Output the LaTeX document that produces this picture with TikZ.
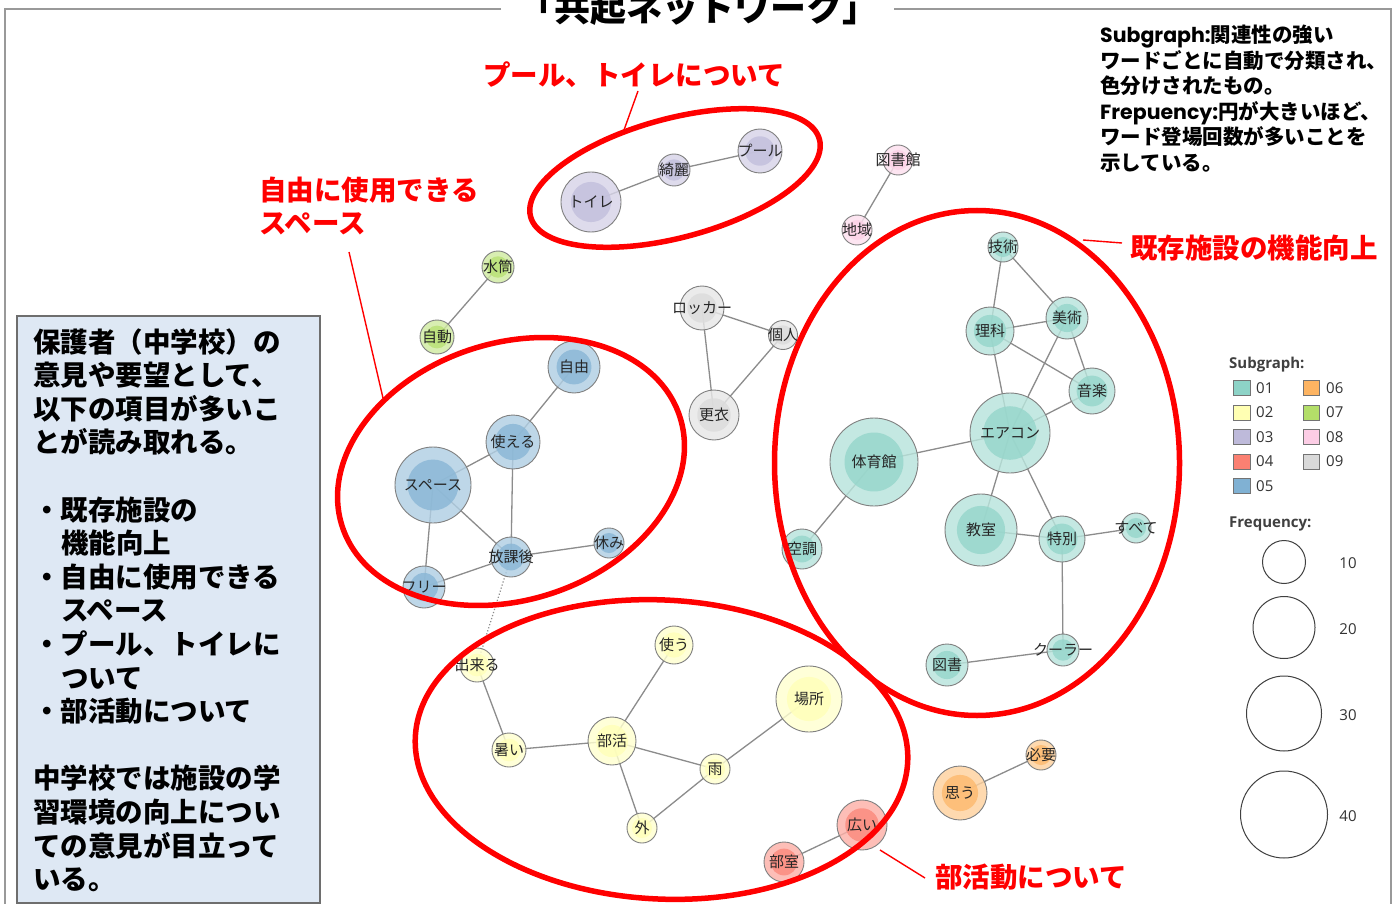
\documentclass[tikz,border=0pt]{standalone}
\usepackage{fontspec}
\newfontfamily\jp{Noto Sans CJK JP}
\newfontfamily\pop{Poppins}
\newfontfamily\osans{Open Sans}
\pgfdeclarelayer{bg}
\pgfdeclarelayer{edges}
\pgfsetlayers{bg,edges,main}
\definecolor{sA}{HTML}{8DD3C7}
\definecolor{sB}{HTML}{FFFFB3}
\definecolor{sC}{HTML}{BEBADA}
\definecolor{sD}{HTML}{FB8072}
\definecolor{sE}{HTML}{80B1D3}
\definecolor{sF}{HTML}{FDB462}
\definecolor{sG}{HTML}{B3DE69}
\definecolor{sH}{HTML}{FCCDE5}
\definecolor{sI}{HTML}{D9D9D9}
\definecolor{boxfill}{HTML}{DEE8F4}
\definecolor{boxline}{HTML}{6E6E6E}
\definecolor{edgec}{HTML}{8C8C8C}
\definecolor{ringc}{HTML}{808080}
\definecolor{hlred}{HTML}{FF0000}
\tikzset{
  word/.style n args={2}{circle, inner sep=0pt, outer sep=0pt, minimum size={2*#2pt},
     draw=ringc, line width=0.9pt, fill=#1!62!white, fill opacity=0.82,
     path picture={\fill[#1!92!white] (path picture bounding box.center) circle ({0.67*#2pt});}},
  wlabel/.style={font=\jp\fontsize{15}{15}\selectfont, text=black!85, inner sep=0pt, fill opacity=1, text opacity=1},
  ed/.style={draw=edgec, line width=1.3pt},
  dotedge/.style={draw=edgec, line width=1.2pt, dotted},
  hl/.style={draw=hlred, line width=5.5pt},
  callout/.style={draw=hlred, line width=1.4pt},
  redlab/.style={text=hlred, font=\jp\bfseries\fontsize{27.5}{33}\selectfont, inner sep=0pt, anchor=base west},
  boxtext/.style={font=\jp\bfseries\fontsize{27.5}{33}\selectfont, inner sep=0pt, anchor=base west, text=black},
  note/.style={font=\jp\bfseries\fontsize{20.5}{25}\selectfont, inner sep=0pt, anchor=base west, text=black},
  legsq/.style={draw=black!55, line width=0.8pt, minimum width=16.5pt, minimum height=15pt, inner sep=0pt},
  legtxt/.style={font=\osans\fontsize{15}{15}\selectfont, text=black!80, inner sep=0pt},
  leghead/.style={font=\osans\bfseries\fontsize{15}{15}\selectfont, text=black!75, inner sep=0pt, anchor=west},
  legcirc/.style={circle, draw=black!75, line width=1pt, inner sep=0pt},
  frameline/.style={draw=black!40, line width=1.5pt},
}
\newcommand\wnode[6]{\node[word={#5}{#4}, label={[wlabel]center:#6}] (#1) at (#2,#3) {};}
\begin{document}
\begin{tikzpicture}[x=1pt,y=-1pt]
\useasboundingbox (0,0) rectangle (1397,904);
\begin{pgfonlayer}{bg}
\fill[white] (0,0) rectangle (1397,904);
\end{pgfonlayer}
% frame
\draw[frameline] (501,9) -- (5,9) -- (5,910);
\draw[frameline] (894,9) -- (1391,9) -- (1391,910);
\node[font=\jp\bfseries\fontsize{36}{36}\selectfont, anchor=base, inner sep=0pt] (title) at (698.5,21.5) {「共起ネットワーク」};

% left summary box
\draw[fill=boxfill, draw=boxline, line width=2.5pt] (17,316) rectangle (320,903);
\node[boxtext] (b1) at (33,352) {保護者（中学校）の};
\node[boxtext] (b2) at (33,385.6) {意見や要望として、};
\node[boxtext] (b3) at (33,419.2) {以下の項目が多いこ};
\node[boxtext] (b4) at (33,452.8) {とが読み取れる。};
\node[boxtext] (b5) at (33,520) {・既存施設の};
\node[boxtext] (b6) at (61,553.6) {機能向上};
\node[boxtext] (b7) at (33,587.2) {・自由に使用できる};
\node[boxtext] (b8) at (61,620.8) {スペース};
\node[boxtext] (b9) at (33,654.4) {・プール、トイレに};
\node[boxtext] (b10) at (61,688) {ついて};
\node[boxtext] (b11) at (33,721.6) {・部活動について};
\node[boxtext] (b12) at (33,788.8) {中学校では施設の学};
\node[boxtext] (b13) at (33,822.4) {習環境の向上につい};
\node[boxtext] (b14) at (33,856) {ての意見が目立って};
\node[boxtext] (b15) at (33,889.6) {いる。};

% top-right note
\node[note] (n1) at (1100,42.8) {{\pop Subgraph:}関連性の強い};
\node[note] (n2) at (1100,68.3) {ワードごとに自動で分類され、};
\node[note] (n3) at (1100,93.8) {色分けされたもの。};
\node[note] (n4) at (1100,119.3) {{\pop Frepuency:}円が大きいほど、};
\node[note] (n5) at (1100,144.8) {ワード登場回数が多いことを};
\node[note] (n6) at (1100,170.3) {示している。};

% words
\wnode{toire}{591}{202}{30}{sC}{トイレ}
\wnode{kirei}{674}{170}{16}{sC}{綺麗}
\wnode{pool}{760}{151}{22}{sC}{プール}
\wnode{toshokan}{898}{160}{15}{sH}{図書館}
\wnode{chiiki}{857}{230}{15}{sH}{地域}
\wnode{suito}{498}{267}{16}{sG}{水筒}
\wnode{jido}{437}{337}{17}{sG}{自動}
\wnode{locker}{702}{308}{22}{sI}{ロッカー}
\wnode{kojin}{783}{335}{14.5}{sI}{個人}
\wnode{koui}{714}{415}{25}{sI}{更衣}
\wnode{jiyu}{574}{367}{26}{sE}{自由}
\wnode{tsukaeru}{513}{442}{27}{sE}{使える}
\wnode{space}{433}{485}{38}{sE}{スペース}
\wnode{houkago}{511}{557}{20}{sE}{放課後}
\wnode{yasumi}{609}{543}{15}{sE}{休み}
\wnode{free}{424}{587}{21}{sE}{フリー}
\wnode{gijutsu}{1003}{247}{15}{sA}{技術}
\wnode{rika}{990}{331}{24}{sA}{理科}
\wnode{bijutsu}{1067}{318}{21}{sA}{美術}
\wnode{ongaku}{1092}{391}{23}{sA}{音楽}
\wnode{aircon}{1010}{433}{40}{sA}{エアコン}
\wnode{taiikukan}{874}{462}{44}{sA}{体育館}
\wnode{kucho}{802}{549}{20}{sA}{空調}
\wnode{kyoshitsu}{981}{530}{36}{sA}{教室}
\wnode{tokubetsu}{1062}{539}{23}{sA}{特別}
\wnode{subete}{1136}{528}{15}{sA}{すべて}
\wnode{cooler}{1063}{650}{16}{sA}{クーラー}
\wnode{tosho}{947}{665}{21}{sA}{図書}
\wnode{dekiru}{477}{665}{17}{sB}{出来る}
\wnode{tsukau}{674}{645}{19}{sB}{使う}
\wnode{basho}{809}{699}{33}{sB}{場所}
\wnode{atsui}{509}{750}{17}{sB}{暑い}
\wnode{bukatsu}{612}{741}{24}{sB}{部活}
\wnode{ame}{715}{769}{15}{sB}{雨}
\wnode{soto}{642}{828}{15}{sB}{外}
\wnode{hiroi}{862}{825}{25}{sD}{広い}
\wnode{bushitsu}{784}{862}{20}{sD}{部室}
\wnode{omou}{960}{793}{27}{sF}{思う}
\wnode{hitsuyo}{1041}{755}{15}{sF}{必要}

\begin{pgfonlayer}{edges}
\draw[ed] (toire.center) -- (kirei.center) -- (pool.center);
\draw[ed] (toshokan.center) -- (chiiki.center);
\draw[ed] (suito.center) -- (jido.center);
\draw[ed] (locker.center) -- (kojin.center) -- (koui.center) -- (locker.center);
\draw[ed] (jiyu.center) -- (tsukaeru.center) -- (space.center);
\draw[ed] (tsukaeru.center) -- (houkago.center);
\draw[ed] (space.center) -- (houkago.center);
\draw[ed] (space.center) -- (free.center) -- (houkago.center) -- (yasumi.center);
\draw[dotedge] (houkago.center) -- (dekiru.center);
\draw[ed] (gijutsu.center) -- (rika.center);
\draw[ed] (gijutsu.center) -- (bijutsu.center);
\draw[ed] (rika.center) -- (bijutsu.center);
\draw[ed] (rika.center) -- (ongaku.center);
\draw[ed] (bijutsu.center) -- (ongaku.center);
\draw[ed] (rika.center) -- (aircon.center);
\draw[ed] (bijutsu.center) -- (aircon.center);
\draw[ed] (ongaku.center) -- (aircon.center);
\draw[ed] (aircon.center) -- (taiikukan.center) -- (kucho.center);
\draw[ed] (aircon.center) -- (kyoshitsu.center) -- (tokubetsu.center) -- (aircon.center);
\draw[ed] (tokubetsu.center) -- (subete.center);
\draw[ed] (tokubetsu.center) -- (cooler.center) -- (tosho.center);
\draw[ed] (dekiru.center) -- (atsui.center) -- (bukatsu.center) -- (tsukau.center);
\draw[ed] (bukatsu.center) -- (ame.center) -- (basho.center);
\draw[ed] (bukatsu.center) -- (soto.center) -- (ame.center);
\draw[ed] (hiroi.center) -- (bushitsu.center);
\draw[ed] (omou.center) -- (hitsuyo.center);
\end{pgfonlayer}

% red highlight ellipses
\draw[hl, rotate around={15:(675,178)}] (675,178) ellipse [x radius=149.5pt, y radius=59.5pt];
\draw[hl, rotate around={18:(511,471.5)}] (511,471.5) ellipse [x radius=177.5pt, y radius=128.5pt];
\draw[hl] (977,463) ellipse [x radius=202.5pt, y radius=252.5pt];
\draw[hl, rotate around={-3:(661.5,749.5)}] (661.5,749.5) ellipse [x radius=246.5pt, y radius=149.5pt];

% red labels and callouts
\node[redlab] (lpool) at (483,85.5) {プール、トイレについて};
\node[redlab] (lspace1) at (259,200.5) {自由に使用できる};
\node[redlab] (lspace2) at (259,233.5) {スペース};
\node[redlab] (lkison) at (1130,258.5) {既存施設の機能向上};
\node[redlab] (lbukatsu) at (935,887.5) {部活動について};
\coordinate (cpA) at (638,91);
\coordinate (cpB) at (624,130);
\coordinate (csA) at (349,252);
\coordinate (csB) at (383,398);
\coordinate (ckA) at (1122,243);
\coordinate (ckB) at (1083,240);
\coordinate (cbA) at (925,878);
\coordinate (cbB) at (880,850);
\draw[callout] (cpA) -- (cpB);
\draw[callout] (csA) -- (csB);
\draw[callout] (ckA) -- (ckB);
\draw[callout] (cbA) -- (cbB);

% legend
\node[leghead] (lsub) at (1229,365) {Subgraph:};
\node[legsq, fill=sA] (q1) at (1241.7,388) {};
\node[legsq, fill=sB] (q2) at (1241.7,412.5) {};
\node[legsq, fill=sC] (q3) at (1241.7,437) {};
\node[legsq, fill=sD] (q4) at (1241.7,461.5) {};
\node[legsq, fill=sE] (q5) at (1241.7,486) {};
\node[legsq, fill=sF] (q6) at (1311.5,388) {};
\node[legsq, fill=sG] (q7) at (1311.5,412.5) {};
\node[legsq, fill=sH] (q8) at (1311.5,437) {};
\node[legsq, fill=sI] (q9) at (1311.5,461.5) {};
\node[legtxt, anchor=west] (t1) at (1256,388) {01};
\node[legtxt, anchor=west] (t2) at (1256,412.5) {02};
\node[legtxt, anchor=west] (t3) at (1256,437) {03};
\node[legtxt, anchor=west] (t4) at (1256,461.5) {04};
\node[legtxt, anchor=west] (t5) at (1256,486) {05};
\node[legtxt, anchor=west] (t6) at (1326,388) {06};
\node[legtxt, anchor=west] (t7) at (1326,412.5) {07};
\node[legtxt, anchor=west] (t8) at (1326,437) {08};
\node[legtxt, anchor=west] (t9) at (1326,461.5) {09};
\node[leghead] (lfreq) at (1229,524) {Frequency:};
\node[legcirc, minimum size=43pt] (f10) at (1284,562) {};
\node[legcirc, minimum size=62pt] (f20) at (1284,627.5) {};
\node[legcirc, minimum size=75pt] (f30) at (1284,713.5) {};
\node[legcirc, minimum size=87pt] (f40) at (1284,814.5) {};
\node[legtxt] (v10) at (1348,563) {10};
\node[legtxt] (v20) at (1348,629) {20};
\node[legtxt] (v30) at (1348,715) {30};
\node[legtxt] (v40) at (1348,816) {40};
\end{tikzpicture}
\end{document}
